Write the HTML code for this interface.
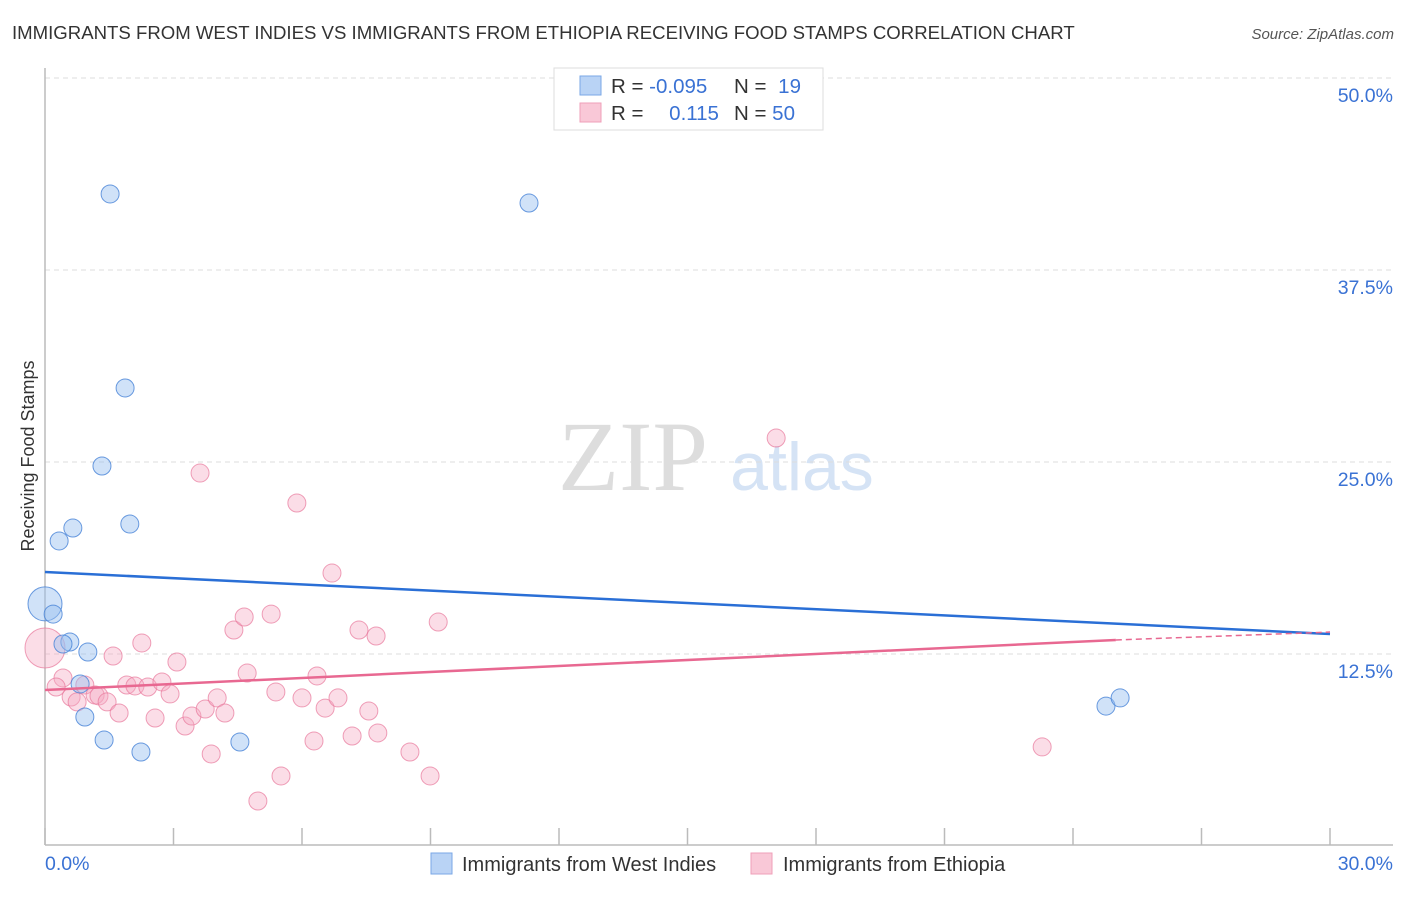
<!DOCTYPE html>
<html><head><meta charset="utf-8"><style>
body{margin:0;background:#fff;font-family:"Liberation Sans",sans-serif;}
</style></head><body>
<svg id="c" width="1406" height="892" xmlns="http://www.w3.org/2000/svg" font-family="Liberation Sans, sans-serif">
<text x="12" y="39" font-size="18.6" fill="#333">IMMIGRANTS FROM WEST INDIES VS IMMIGRANTS FROM ETHIOPIA RECEIVING FOOD STAMPS CORRELATION CHART</text>
<text x="1394" y="39" font-size="15" fill="#555" font-style="italic" text-anchor="end">Source: ZipAtlas.com</text>
<text x="633" y="490" font-size="100" fill="#ddd" style="font-family:'Liberation Serif',serif" text-anchor="middle">ZIP</text>
<text x="802" y="490" font-size="68" fill="#d5e3f5" text-anchor="middle">atlas</text>
<text transform="translate(34,456) rotate(-90)" font-size="18" fill="#333" text-anchor="middle">Receiving Food Stamps</text>
<g id="grid"></g><g id="pts"></g><g id="lines"></g>
<g>
<rect x="554" y="68" width="269" height="62" fill="#fff" stroke="#ddd"/>
<rect x="580" y="76" width="21" height="19" fill="#b9d3f5" stroke="#7aa7e6"/>
<rect x="580" y="103" width="21" height="19" fill="#f9c8d7" stroke="#ef9fb8"/>
<text x="611" y="93" font-size="20.5" fill="#333">R = <tspan fill="#3a72d4">-0.095</tspan></text>
<text x="734" y="93" font-size="20.5" fill="#333">N = <tspan fill="#3a72d4" dx="6">19</tspan></text>
<text x="611" y="120" font-size="20.5" fill="#333">R = <tspan fill="#3a72d4" dx="20">0.115</tspan></text>
<text x="734" y="120" font-size="20.5" fill="#333">N = <tspan fill="#3a72d4">50</tspan></text>
</g>
<g>
<rect x="431" y="853" width="21" height="21" fill="#b9d3f5" stroke="#7aa7e6"/>
<text x="462" y="871" font-size="20" fill="#333">Immigrants from West Indies</text>
<rect x="751" y="853" width="21" height="21" fill="#f9c8d7" stroke="#ef9fb8"/>
<text x="783" y="871" font-size="20" fill="#333">Immigrants from Ethiopia</text>
</g>
</svg>
<script>
const xTicks=[0,3,6,9,12,15,18,21,24,27,30];
const yTicks=[12.5,25,37.5,50];
const yTickLabels=["12.5%","25.0%","37.5%","50.0%"];
const xAxisLabels=["0.0%","30.0%"];
const blueX=[0,0.19,1.52,11.3,1.87,1.33,0.65,1.98,0.33,0.58,0.42,1.0,0.82,0.93,1.38,2.24,4.55,24.77,25.1];
const blueY=[15.76,15.1,42.45,41.86,29.82,24.74,20.7,20.96,19.86,13.28,13.15,12.63,10.55,8.4,6.9,6.12,6.77,9.11,9.64];
const blueR=[17,9,9,9,9,9,9,9,9,9,9,9,9,9,9,9,9,9,9];
const pinkX=[0,0.42,0.26,0.93,0.61,0.75,1.17,1.26,1.45,1.73,1.59,2.26,3.08,1.91,2.1,2.4,2.73,2.92,2.57,3.27,3.43,3.74,4.02,4.2,3.88,4.41,4.65,4.72,5.28,5.39,6.0,6.28,6.35,6.54,6.84,7.33,7.73,7.17,7.56,7.77,8.52,9.18,8.99,5.51,4.97,6.7,3.62,5.88,17.07,23.28];
const pinkY=[12.89,10.94,10.35,10.48,9.7,9.38,9.83,9.77,9.38,8.66,12.37,13.22,11.98,10.48,10.42,10.35,10.68,9.9,8.33,7.81,8.46,8.92,9.64,8.66,5.99,14.06,14.91,11.26,15.1,10.03,9.64,6.84,11.07,8.98,9.64,14.06,13.67,7.16,8.79,7.36,6.12,14.58,4.56,4.56,2.93,17.77,24.28,22.33,26.56,6.45];
const blueTrend=[0,17.84,30,13.8];
const pinkTrend=[0,10.16,25,13.41,30,13.93];
const X=v=>45+v/30*1285, Y=v=>846-v/12.5*192;
const NS="http://www.w3.org/2000/svg";
function mk(p,t,a){const e=document.createElementNS(NS,t);for(const k in a)e.setAttribute(k,a[k]);p.appendChild(e);return e;}
const g=document.getElementById('grid');
yTicks.forEach((v,i)=>{
 const l=mk(g,'line',{x1:45,x2:1393,y1:Y(v),y2:Y(v),stroke:'#ddd','stroke-dasharray':'5,4'});
 
 
 const t=mk(g,'text',{x:1393,y:Y(v)+24,'font-size':19.5,fill:'#3a72d4','text-anchor':'end'});t.textContent=yTickLabels[i];
 
 
});
const ax=mk(g,'line',{x1:45,x2:1393,y1:845,y2:845,stroke:'#bbb','stroke-width':1.5});


const ay=mk(g,'line',{x1:45,x2:45,y1:68,y2:845,stroke:'#bbb','stroke-width':1.5});


xTicks.forEach(v=>{const l=mk(g,'line',{x1:X(v),x2:X(v),y1:828,y2:845,stroke:'#bbb','stroke-width':1.5});
 
 });
const xl0=mk(g,'text',{x:45,y:870,'font-size':19.5,fill:'#3a72d4'});xl0.textContent=xAxisLabels[0];


const xl1=mk(g,'text',{x:1393,y:870,'font-size':19.5,fill:'#3a72d4','text-anchor':'end'});xl1.textContent=xAxisLabels[1];


const P=document.getElementById('pts');
pinkX.forEach((x,i)=>{const c=mk(P,'circle',{cx:X(x),cy:Y(pinkY[i]),r:i==0?20:9,fill:'rgba(246,170,195,0.4)',stroke:'rgba(232,120,155,0.7)','stroke-width':1});
 
 });
blueX.forEach((x,i)=>{const c=mk(P,'circle',{cx:X(x),cy:Y(blueY[i]),r:blueR[i],fill:'rgba(150,190,240,0.45)',stroke:'rgba(70,130,215,0.8)','stroke-width':1});
 
 });
const L=document.getElementById('lines');
const bl=mk(L,'line',{x1:X(blueTrend[0]),y1:Y(blueTrend[1]),x2:X(blueTrend[2]),y2:Y(blueTrend[3]),stroke:'#2a6fd6','stroke-width':2.5});


const pl=mk(L,'line',{x1:X(pinkTrend[0]),y1:Y(pinkTrend[1]),x2:X(pinkTrend[2]),y2:Y(pinkTrend[3]),stroke:'#e86891','stroke-width':2.5});


const pd=mk(L,'line',{x1:X(pinkTrend[2]),y1:Y(pinkTrend[3]),x2:X(pinkTrend[4]),y2:Y(pinkTrend[5]),stroke:'#e86891','stroke-width':1.5,'stroke-dasharray':'6,4'});


</script>
</body></html>
